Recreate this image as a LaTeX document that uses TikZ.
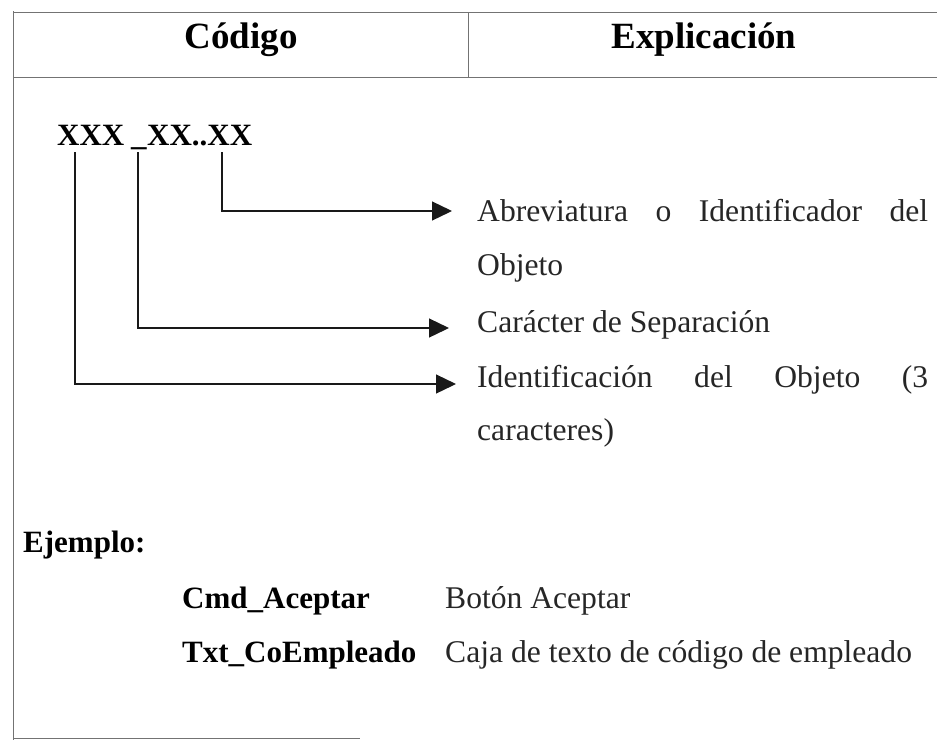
\documentclass[tikz,border=0pt]{standalone}
\usepackage{fontspec}
\setmainfont{Liberation Serif}
\usetikzlibrary{arrows.meta}
\begin{document}
\begin{tikzpicture}[x=1pt,y=-1pt,
  frame/.style={draw=black!55, line width=1pt},
  hdr/.style={font=\fontsize{37}{40}\selectfont\bfseries, inner sep=0pt, anchor=base, text=black},
  bld/.style={font=\fontsize{31}{34}\selectfont\bfseries, inner sep=0pt, anchor=base west, text=black},
  txt/.style={font=\fontsize{31.6}{34}\selectfont, inner sep=0pt, anchor=base west, text=black!85},
  conn/.style={draw=black!90, line width=1.3pt, -{Triangle[length=20pt,width=19pt]}}]
\useasboundingbox (0,0) rectangle (937,740);
\fill[white] (0,0) rectangle (937,740);
% table frame
\draw[frame] (13,12) -- (937,12);
\draw[frame] (13,77) -- (937,77);
\draw[frame] (13,11) -- (13,740);
\draw[frame] (468,12) -- (468,77);
\draw[frame] (13,738) -- (360,738);
% header
\node[hdr] (hcod) at (241,48) {Código};
\node[hdr] (hexp) at (704,48) {Explicación};
% code pattern
\node[bld] (xa) at (57,145) {XXX};
\node[bld] (us) at (131,145) {\_};
\node[bld] (xb) at (147,145) {XX..XX};
% descriptions
\node[txt] (t1) at (477,221) {\hbox to 451pt{Abreviatura\hfill o\hfill Identificador\hfill del}};
\node[txt] (t1b) at (477,275) {Objeto};
\node[txt] (t2) at (477,332) {Carácter de Separación};
\node[txt] (t3) at (477,387) {\hbox to 451pt{Identificación\hfill del\hfill Objeto\hfill (3}};
\node[txt] (t3b) at (477,440) {caracteres)};
% connectors
\coordinate (s1) at (222,152);
\coordinate (e1) at (452,211);
\coordinate (s2) at (138,152);
\coordinate (e2) at (449,328);
\coordinate (s3) at (75,152);
\coordinate (e3) at (456,384);
\draw[conn] (s1) |- (e1);
\draw[conn] (s2) |- (e2);
\draw[conn] (s3) |- (e3);
% example
\node[bld] (ej) at (23,552) {Ejemplo:};
\node[bld] (c1) at (182,608) {Cmd\_Aceptar};
\node[txt] (d1) at (445,608) {Botón Aceptar};
\node[bld] (c2) at (182,662) {Txt\_CoEmpleado};
\node[txt] (d2) at (445,662) {Caja de texto de código de empleado};
\end{tikzpicture}
\end{document}
